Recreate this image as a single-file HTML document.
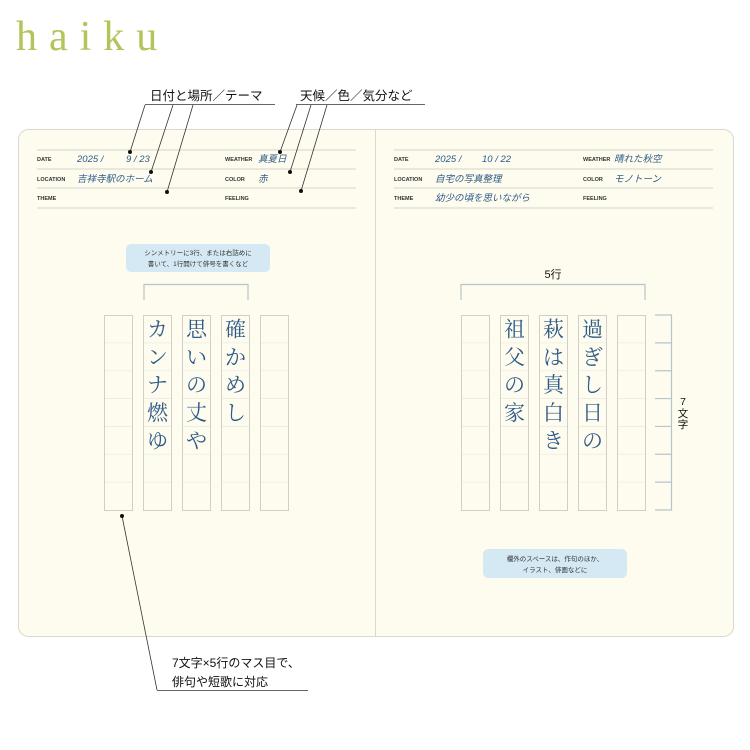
<!DOCTYPE html>
<html><head><meta charset="utf-8"><style>
html,body{margin:0;padding:0;background:#fff;width:750px;height:750px;overflow:hidden}
svg{display:block}
.lab{font-family:"Liberation Sans",sans-serif;font-size:5.5px;font-weight:bold;fill:#333}
.val{font-family:"Liberation Sans","Noto Sans CJK JP",sans-serif;font-size:9.5px;fill:#2e5a88;font-style:italic}
.hw{font-family:"Noto Serif CJK SC","Noto Sans CJK JP",serif;font-size:21px;fill:#2e5a88}
.cj{font-family:"Liberation Sans","Noto Sans CJK JP",sans-serif;fill:#111}
.sm{font-family:"Liberation Sans","Noto Sans CJK JP",sans-serif;font-size:6.5px;fill:#333}
</style></head><body>
<svg width="750" height="750" viewBox="0 0 750 750" xmlns="http://www.w3.org/2000/svg">
<text x="16" y="50" font-family="Liberation Serif,serif" font-size="42" fill="#b5c45a" letter-spacing="12">haiku</text>
<rect x="18.5" y="129.5" width="715" height="507" rx="10" fill="#fdfcef" stroke="#d8d8cc"/>
<line x1="375.5" y1="130" x2="375.5" y2="636" stroke="#d8d8cc"/>
<g stroke="#d4d4c8" stroke-width="1">
<line x1="37" y1="150" x2="356" y2="150"/><line x1="37" y1="169" x2="356" y2="169"/><line x1="37" y1="188" x2="356" y2="188"/><line x1="37" y1="208" x2="356" y2="208"/>
<line x1="394" y1="150" x2="713" y2="150"/><line x1="394" y1="169" x2="713" y2="169"/><line x1="394" y1="188" x2="713" y2="188"/><line x1="394" y1="208" x2="713" y2="208"/>
</g>
<text class="lab" x="37" y="161">DATE</text><text class="lab" x="37" y="181">LOCATION</text><text class="lab" x="37" y="200">THEME</text>
<text class="lab" x="225" y="161">WEATHER</text><text class="lab" x="225" y="181">COLOR</text><text class="lab" x="225" y="200">FEELING</text>
<text class="val" x="77" y="162">2025 /</text><text class="val" x="126" y="162">9 / 23</text>
<text class="val" x="77" y="182">吉祥寺駅のホーム</text>
<text class="val" x="258" y="162">真夏日</text><text class="val" x="258" y="182">赤</text>
<text class="lab" x="394" y="161">DATE</text><text class="lab" x="394" y="181">LOCATION</text><text class="lab" x="394" y="200">THEME</text>
<text class="lab" x="583" y="161">WEATHER</text><text class="lab" x="583" y="181">COLOR</text><text class="lab" x="583" y="200">FEELING</text>
<text class="val" x="435" y="162">2025 /</text><text class="val" x="482" y="162">10 / 22</text>
<text class="val" x="435" y="182">自宅の写真整理</text><text class="val" x="435" y="201">幼少の頃を思いながら</text>
<text class="val" x="614" y="162">晴れた秋空</text><text class="val" x="614" y="182">モノトーン</text>
<text class="cj" x="150" y="100" font-size="12.5">日付と場所／テーマ</text>
<text class="cj" x="300" y="100" font-size="12.5">天候／色／気分など</text>
<g stroke="#333" stroke-width="0.8" fill="none">
<line x1="145" y1="104.5" x2="275" y2="104.5"/><line x1="296" y1="104.5" x2="425" y2="104.5"/>
<line x1="145" y1="105" x2="130" y2="152"/><line x1="173" y1="105" x2="151" y2="172"/><line x1="193" y1="105" x2="167" y2="192"/>
<line x1="297" y1="105" x2="280" y2="152"/><line x1="311" y1="105" x2="290" y2="172"/><line x1="327" y1="105" x2="301" y2="191"/>
<line x1="122" y1="516" x2="157" y2="690"/><line x1="157" y1="690.5" x2="308" y2="690.5"/>
</g>
<g fill="#111"><circle cx="130" cy="152" r="2"/><circle cx="151" cy="172" r="2"/><circle cx="167" cy="192" r="2"/>
<circle cx="280" cy="152" r="2"/><circle cx="290" cy="172" r="2"/><circle cx="301" cy="191" r="2"/><circle cx="122" cy="516" r="2"/></g>
<text class="cj" x="172" y="667" font-size="12">7文字×5行のマス目で、</text>
<text class="cj" x="172" y="686" font-size="12">俳句や短歌に対応</text>
<rect x="126" y="244" width="144" height="28" rx="5" fill="#d4e9f3"/>
<text class="sm" x="198" y="255" text-anchor="middle">シンメトリーに3行、または右詰めに</text>
<text class="sm" x="198" y="266" text-anchor="middle">書いて、1行開けて俳号を書くなど</text>
<rect x="483" y="549" width="144" height="29" rx="5" fill="#d4e9f3"/>
<text class="sm" x="555" y="561" text-anchor="middle">欄外のスペースは、作句のほか、</text>
<text class="sm" x="555" y="572" text-anchor="middle">イラスト、俳画などに</text>
<g stroke="#b8c4cc" stroke-width="1.2" fill="none">
<polyline points="144,300 144,284.5 248,284.5 248,300"/>
<polyline points="461,300 461,284.5 645,284.5 645,300"/>
<line x1="671.5" y1="315" x2="671.5" y2="510"/>
</g>
<g stroke="#b8c4cc" stroke-width="1.2" id="ticks"></g>
<text class="cj" x="553" y="278" font-size="11" text-anchor="middle">5行</text>
<text class="cj" x="683" y="405" font-size="10.5" text-anchor="middle">7</text>
<text class="cj" x="683" y="417" font-size="10.5" text-anchor="middle">文</text>
<text class="cj" x="683" y="428" font-size="10.5" text-anchor="middle">字</text>
<g id="grid"></g>
<g id="hw"></g>
</svg>
<script>
(function(){
var ns="http://www.w3.org/2000/svg";
function el(t,a,p){var e=document.createElementNS(ns,t);for(var k in a)e.setAttribute(k,a[k]);document.getElementById(p).appendChild(e);return e;}
var cols=[104,143,182,221,260,461,500,539,578,617],gy=315,h=195,ch=h/7;
cols.forEach(function(x){
 el("rect",{x:x+.5,y:gy+.5,width:28,height:h,fill:"none",stroke:"#d0d0c8","stroke-width":1},"grid");
 for(var i=1;i<7;i++)el("line",{x1:x+1,x2:x+28,y1:gy+i*ch,y2:gy+i*ch,stroke:"#ebebe2","stroke-width":0.8},"grid");
});
for(var i=0;i<=7;i++)el("line",{x1:655,x2:672,y1:gy+i*ch,y2:gy+i*ch},"ticks");
var texts=[[143,"カンナ燃ゆ"],[182,"思いの丈や"],[221,"確かめし"],[500,"祖父の家"],[539,"萩は真白き"],[578,"過ぎし日の"]];
texts.forEach(function(t){
 for(var i=0;i<t[1].length;i++){var e=el("text",{x:t[0]+14.5,y:gy+i*ch+ch/2+7.5,"text-anchor":"middle","class":"hw"},"hw");e.textContent=t[1][i];}
});
})();
</script>
</body></html>
